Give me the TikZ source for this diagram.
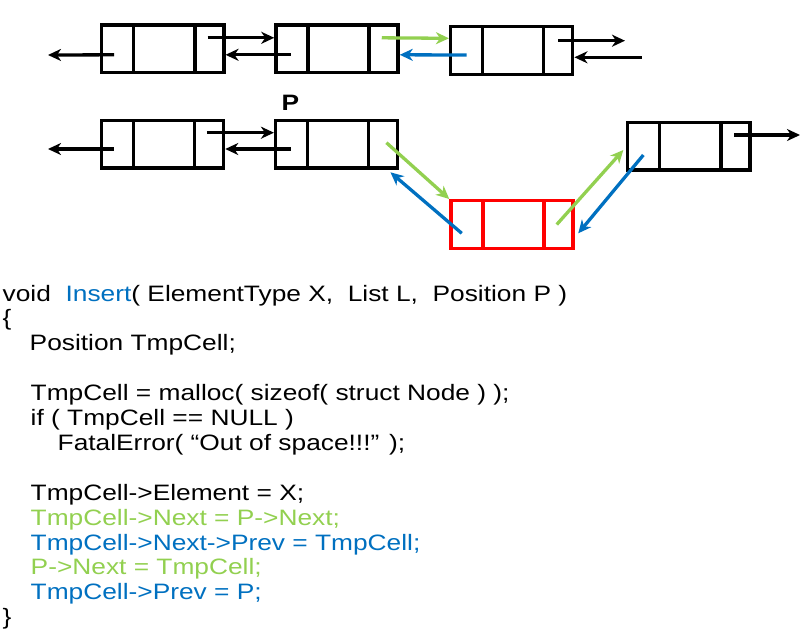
\documentclass[tikz,border=0pt]{standalone}
\usepackage{fontspec}
\usepackage{xcolor}
\usetikzlibrary{arrows.meta,positioning}
\newfontfamily\codefont[FakeStretch=1.18]{Liberation Sans}
\definecolor{nextgreen}{HTML}{92D050}
\definecolor{prevblue}{HTML}{0070C0}

\begin{document}
\begin{tikzpicture}[x=1pt, y=-1pt,
    cell/.style={draw=#1, line width=3.3pt, minimum width=122.2pt, minimum height=47.7pt, inner sep=0pt,
      path picture={\draw[#1, line width=3.3pt]
        ([xshift=32pt]path picture bounding box.north west) -- ([xshift=32pt]path picture bounding box.south west)
        ([xshift=-29pt]path picture bounding box.north east) -- ([xshift=-29pt]path picture bounding box.south east);}},
    cell/.default=black,
    link/.style={line width=3.3pt, -{Stealth[length=13pt, width=12pt, inset=4pt]}},
    code/.style={inner sep=0pt, align=left, font=\codefont\fontsize{22.3}{24.9}\selectfont}]
  \useasboundingbox (0,0) rectangle (803,638);
  % list before the insertion
  \node[cell] (A) at (162.8,48.8) {};
  \node[cell, right=48.7pt of A] (B) {};
  \node[cell, right=49.2pt of B, yshift=-1.5pt] (C) {};
  \coordinate (A-prev) at (48,55);
  \coordinate (C-next) at (625,40.7);
  \coordinate (C-back) at (641.7,57.3);
  \draw[link] ([xshift=14pt,yshift=-6pt]A.west) -- (A-prev);
  \draw[link] ([xshift=-18pt,yshift=11pt]A.east) -- ([yshift=11pt]B.west);
  \draw[link] ([xshift=16.5pt,yshift=-6pt]B.west) -- ([yshift=-6pt]A.east);
  \draw[link, nextgreen] ([xshift=-18pt,yshift=11pt]B.east) -- ([yshift=12pt]C.west);
  \draw[link, prevblue] ([xshift=17.7pt,yshift=-4.7pt]C.west) -- ([yshift=-6pt]B.east);
  \draw[link] ([xshift=-16pt,yshift=9.6pt]C.east) -- (C-next);
  \draw[link] (C-back) -- ([yshift=-7pt]C.east);
  % list after the insertion
  \node[cell] (D) at (162.5,144) {};
  \node[cell, right=48.7pt of D] (E) {};
  \node[cell=red] (TmpCell) at (512,224.5) {};
  \node[cell] (F) at (688.8,146.2) {};
  \node[code, font=\codefont\bfseries\fontsize{22.3}{24.9}\selectfont] (P) at (290.5,103.3) {P};
  \coordinate (D-prev) at (48,149);
  \coordinate (F-next) at (800,135);
  \draw[link] ([xshift=14pt,yshift=-5pt]D.west) -- (D-prev);
  \draw[link] ([xshift=-18.5pt,yshift=11.3pt]D.east) -- ([yshift=11.3pt]E.west);
  \draw[link] ([xshift=17pt,yshift=-5pt]E.west) -- ([yshift=-5pt]D.east);
  \draw[link, nextgreen] ([xshift=-13pt,yshift=1.3pt]E.east) -- (TmpCell.north west);
  \draw[link, prevblue] ([xshift=12.5pt,yshift=-8.8pt]TmpCell.west) -- ([xshift=-9pt,yshift=-2.8pt]E.south east);
  \draw[link, nextgreen] ([xshift=-18pt]TmpCell.east) -- ([xshift=-2.7pt,yshift=-3.8pt]F.west);
  \draw[link, prevblue] ([xshift=17.3pt,yshift=-8.8pt]F.west) -- ([xshift=3.5pt,yshift=-8.8pt]TmpCell.east);
  \draw[link] ([xshift=-17.5pt,yshift=11.2pt]F.east) -- (F-next);
  % the routine
  \node[code, anchor=north west] (routine) at (2.5,284.7) {%
    void~~{\color{prevblue}Insert}( ElementType X,~~List L,~~Position P )\\
    \{\\
    \hspace*{27pt}Position TmpCell;\\
    ~\\
    \hspace*{28pt}TmpCell = malloc( sizeof( struct Node ) );\\
    \hspace*{28pt}if ( TmpCell == NULL )\\
    \hspace*{55pt}FatalError( “Out of space!!!” );\\
    ~\\
    \hspace*{28pt}TmpCell->Element = X;\\
    \hspace*{28pt}{\color{nextgreen}TmpCell->Next = P->Next;}\\
    \hspace*{28pt}{\color{prevblue}TmpCell->Next->Prev = TmpCell;}\\
    \hspace*{28pt}{\color{nextgreen}P->Next = TmpCell;}\\
    \hspace*{28pt}{\color{prevblue}TmpCell->Prev = P;}\\
    \}};
\end{tikzpicture}
\end{document}
